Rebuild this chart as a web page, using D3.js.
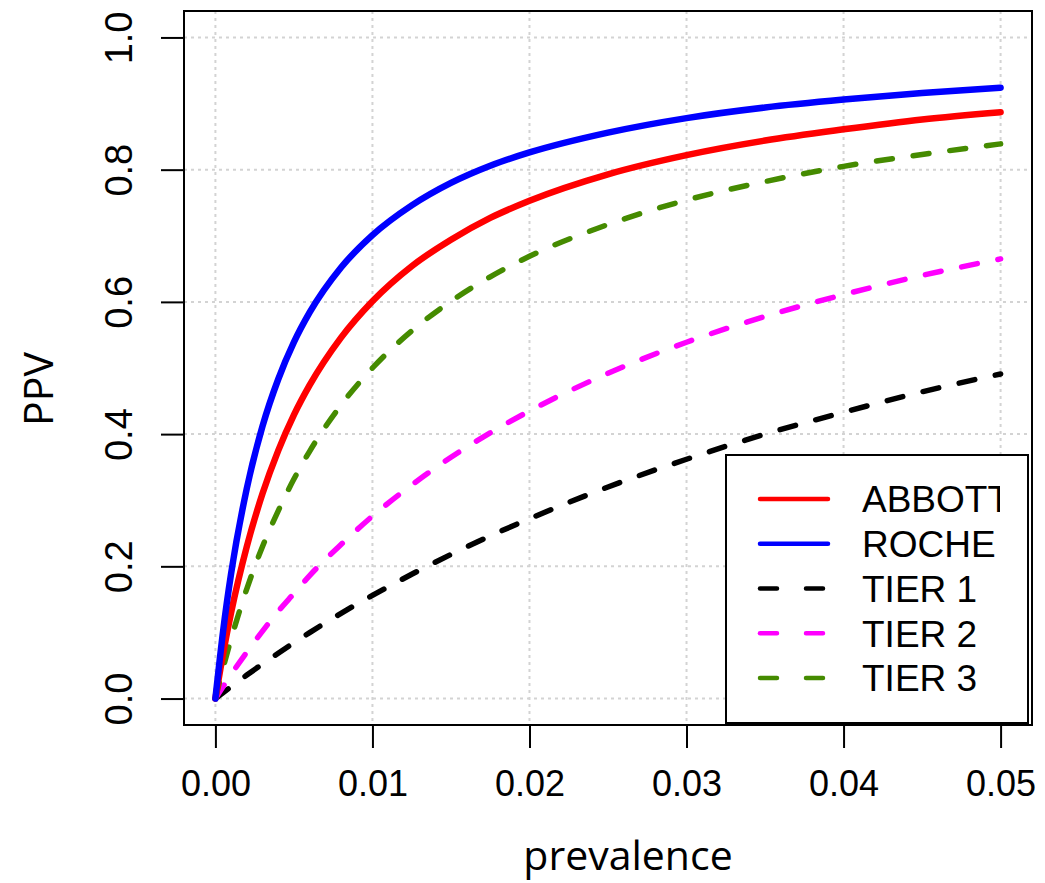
<!DOCTYPE html>
<html><head><meta charset="utf-8">
<script src="https://cdn.jsdelivr.net/npm/d3@7"></script>
<style>body{margin:0;background:#fff}</style>
</head><body>
<svg id="c" width="1045" height="883"></svg>
<script>
const prevalence = [0, 0.0005, 0.001, 0.002, 0.003, 0.004, 0.005, 0.006, 0.008, 0.01, 0.0125, 0.015, 0.0175, 0.02, 0.025, 0.03, 0.035, 0.04, 0.045, 0.05];
const abbott = [0, 0.0695, 0.130, 0.230, 0.310, 0.375, 0.429, 0.474, 0.546, 0.601, 0.654, 0.694, 0.727, 0.753, 0.793, 0.822, 0.844, 0.861, 0.876, 0.887];
const roche  = [0, 0.104, 0.189, 0.318, 0.412, 0.483, 0.539, 0.584, 0.652, 0.701, 0.746, 0.780, 0.806, 0.826, 0.856, 0.878, 0.894, 0.906, 0.916, 0.924];
const tier1  = [0, 0.0091, 0.0180, 0.0355, 0.0523, 0.0686, 0.0844, 0.0997, 0.129, 0.156, 0.188, 0.218, 0.246, 0.272, 0.320, 0.362, 0.400, 0.433, 0.464, 0.491];
const tier2  = [0, 0.0185, 0.0364, 0.0703, 0.102, 0.132, 0.159, 0.186, 0.233, 0.276, 0.323, 0.365, 0.402, 0.435, 0.492, 0.539, 0.578, 0.611, 0.640, 0.665];
const tier3  = [0, 0.0472, 0.0902, 0.166, 0.230, 0.284, 0.332, 0.374, 0.444, 0.500, 0.556, 0.601, 0.638, 0.669, 0.717, 0.754, 0.782, 0.805, 0.823, 0.839];
const seriesNames = ["ABBOTT", "ROCHE", "TIER 1", "TIER 2", "TIER 3"];
const xTicks = [0, 0.01, 0.02, 0.03, 0.04, 0.05];
const xTickLabels = ["0.00", "0.01", "0.02", "0.03", "0.04", "0.05"];
const yTicks = [0, 0.2, 0.4, 0.6, 0.8, 1.0];
const yTickLabels = ["0.0", "0.2", "0.4", "0.6", "0.8", "1.0"];

const series = [
  {name: seriesNames[0], values: abbott, color: "#ff0000", dashed: false},
  {name: seriesNames[1], values: roche, color: "#0000ff", dashed: false},
  {name: seriesNames[2], values: tier1, color: "#000000", dashed: true},
  {name: seriesNames[3], values: tier2, color: "#ff00ff", dashed: true},
  {name: seriesNames[4], values: tier3, color: "#458b00", dashed: true}
];
const drawOrder = [2, 3, 4, 0, 1];

const svg = d3.select("#c");
const L = 184, R = 1032, T = 11, B = 725;
const x = d3.scaleLinear().domain([-0.002, 0.052]).range([L, R]);
const y = d3.scaleLinear().domain([-0.04, 1.04]).range([B, T]);
const ARIAL = "Liberation Sans, Arial, sans-serif";

// grid
const grid = svg.append("g").attr("stroke", "#d3d3d3").attr("stroke-width", 2).attr("stroke-dasharray", "3,4");
grid.selectAll("line.v").data(xTicks).join("line").attr("class","v")
  .attr("x1", d => x(d)).attr("x2", d => x(d)).attr("y1", T).attr("y2", B);
grid.selectAll("line.h").data(yTicks).join("line").attr("class","h")
  .attr("y1", d => y(d)).attr("y2", d => y(d)).attr("x1", L).attr("x2", R);

// axes
const xAxis = d3.axisBottom(x).tickValues(xTicks).tickFormat((d,i) => xTickLabels[i]).tickSize(23).tickPadding(22);
const gx = svg.append("g").attr("transform", `translate(0,${B})`).call(xAxis);
gx.select(".domain").remove();
gx.selectAll(".tick line").attr("stroke", "#000").attr("stroke-width", 2);
gx.selectAll(".tick text").attr("font-family", ARIAL).attr("font-size", 36).attr("fill", "#000");

const yAxis = d3.axisLeft(y).tickValues(yTicks).tickFormat((d,i) => yTickLabels[i]).tickSize(23).tickPadding(0);
const gy = svg.append("g").attr("transform", `translate(${L},0)`).call(yAxis);
gy.select(".domain").remove();
gy.selectAll(".tick line").attr("stroke", "#000").attr("stroke-width", 2);
gy.selectAll(".tick text")
  .attr("font-family", ARIAL).attr("font-size", 38).attr("fill", "#000")
  .attr("x", null).attr("dy", null)
  .attr("text-anchor", "middle")
  .attr("transform", `translate(${132 - L},0) rotate(-90)`);

// lines
const line = d3.line().x((d, i) => x(prevalence[i])).y(d => y(d)).curve(d3.curveMonotoneX);
const gl = svg.append("g");
drawOrder.forEach(k => {
  const s = series[k];
  gl.append("path").datum(s.values)
    .attr("d", line)
    .attr("fill", "none")
    .attr("stroke", s.color)
    .attr("stroke-width", s.dashed ? 5.5 : 6.5)
    .attr("stroke-linecap", "round")
    .attr("stroke-linejoin", "round")
    .attr("stroke-dasharray", s.dashed ? "16,21" : null);
});

// plot box
svg.append("rect").attr("x", L).attr("y", T).attr("width", R - L).attr("height", B - T)
  .attr("fill", "none").attr("stroke", "#000").attr("stroke-width", 2);

// axis titles
svg.append("text").attr("x", 628).attr("y", 870).attr("text-anchor", "middle")
  .attr("font-family", "Open Sans, Noto Sans, sans-serif").attr("font-size", 41).attr("fill", "#000")
  .text("prevalence");
svg.append("text").attr("transform", "translate(53,389) rotate(-90)").attr("text-anchor", "middle")
  .attr("font-family", "Open Sans, Noto Sans, sans-serif").attr("font-size", 41).attr("fill", "#000")
  .text("PPV");

// legend
const lg = svg.append("g");
lg.append("rect").attr("x", 726).attr("y", 455).attr("width", 302).attr("height", 268)
  .attr("fill", "#fff").attr("stroke", "#000").attr("stroke-width", 2);
svg.append("clipPath").attr("id", "lclip").append("rect").attr("x", 726).attr("y", 455).attr("width", 274).attr("height", 268);
const rowY = d3.scalePoint().domain(seriesNames).range([499, 678]);
series.forEach(s => {
  lg.append("line").attr("x1", 760).attr("x2", 828).attr("y1", rowY(s.name)).attr("y2", rowY(s.name))
    .attr("stroke", s.color).attr("stroke-width", 4.5).attr("stroke-linecap", "round")
    .attr("stroke-dasharray", s.dashed ? "17,29" : null);
  lg.append("text").attr("x", 862).attr("y", rowY(s.name)).attr("dy", "0.36em")
    .attr("font-family", ARIAL).attr("font-size", 37).attr("fill", "#000")
    .attr("clip-path", "url(#lclip)")
    .text(s.name);
});
</script>
</body></html>
